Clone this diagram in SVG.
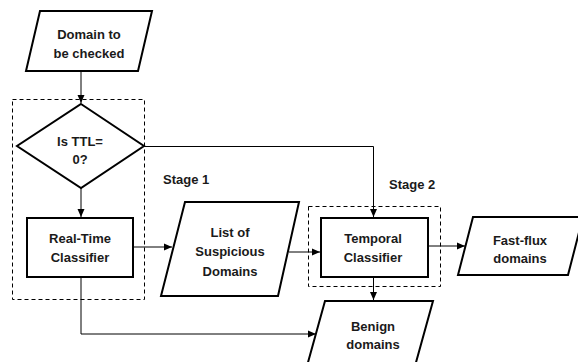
<svg xmlns="http://www.w3.org/2000/svg" width="578" height="362" viewBox="0 0 578 362">
<defs>
<marker id="ah" markerWidth="10" markerHeight="10" refX="9" refY="5" orient="auto" markerUnits="userSpaceOnUse">
<path d="M1,1.5 L9,5 L1,8.5 Z" fill="#000"/>
</marker>
<style>
.s{fill:#fff;stroke:#000;stroke-width:2}
.d{fill:none;stroke:#000;stroke-width:1;stroke-dasharray:4,3}
.c{fill:none;stroke:#000;stroke-width:1}
.t{font-family:"Liberation Sans",Arial,sans-serif;font-weight:bold;font-size:13px;fill:#1a1a1a;text-anchor:middle}
.l{font-family:"Liberation Sans",Arial,sans-serif;font-weight:bold;font-size:13px;fill:#1a1a1a}
</style>
</defs>
<rect width="578" height="362" fill="#fff"/>
<g id="stages">
<rect class="d" x="12.5" y="99.5" width="132" height="200"/>
<rect class="d" x="308.5" y="206.5" width="132" height="80"/>
<text class="l" x="163" y="184">Stage 1</text>
<text class="l" x="389" y="189">Stage 2</text>
</g>
<g id="connectors">
<path class="c" d="M81,71 V103" marker-end="url(#ah)"/>
<path class="c" d="M81,188 V217" marker-end="url(#ah)"/>
<path class="c" d="M144,146.5 H373.5 V217" marker-end="url(#ah)"/>
<path class="c" d="M133,247 H172" marker-end="url(#ah)"/>
<path class="c" d="M289,252 H320" marker-end="url(#ah)"/>
<path class="c" d="M428,246 H465" marker-end="url(#ah)"/>
<path class="c" d="M373.5,277 V300" marker-end="url(#ah)"/>
<path class="c" d="M81,277 V334 H316" marker-end="url(#ah)"/>
</g>
<g id="domain">
<polygon class="s" points="40,11 152,11 138,71 26,71"/>
<text class="t" x="89" y="39">Domain to</text>
<text class="t" x="89" y="58">be checked</text>
</g>
<g id="ttl">
<polygon class="s" points="81,104 144,146 81,188 17,146"/>
<text class="t" x="80" y="146">Is TTL=</text>
<text class="t" x="80" y="164">0?</text>
</g>
<g id="realtime">
<rect class="s" x="27" y="218" width="106" height="59"/>
<text class="t" x="80" y="243">Real-Time</text>
<text class="t" x="80" y="262">Classifier</text>
</g>
<g id="suspicious">
<polygon class="s" points="185,202 299,202 278,296 161,296"/>
<text class="t" x="230" y="237">List of</text>
<text class="t" x="230" y="256">Suspicious</text>
<text class="t" x="230" y="276">Domains</text>
</g>
<g id="temporal">
<rect class="s" x="321" y="218" width="107" height="59"/>
<text class="t" x="373" y="243">Temporal</text>
<text class="t" x="373" y="262">Classifier</text>
</g>
<g id="fastflux">
<polygon class="s" points="473,217 583,217 568,275 458,275"/>
<text class="t" x="520" y="245">Fast-flux</text>
<text class="t" x="520" y="263">domains</text>
</g>
<g id="benign">
<polygon class="s" points="325,301 433,301 415,366 307,366"/>
<text class="t" x="373" y="331">Benign</text>
<text class="t" x="373" y="349">domains</text>
</g>
</svg>
